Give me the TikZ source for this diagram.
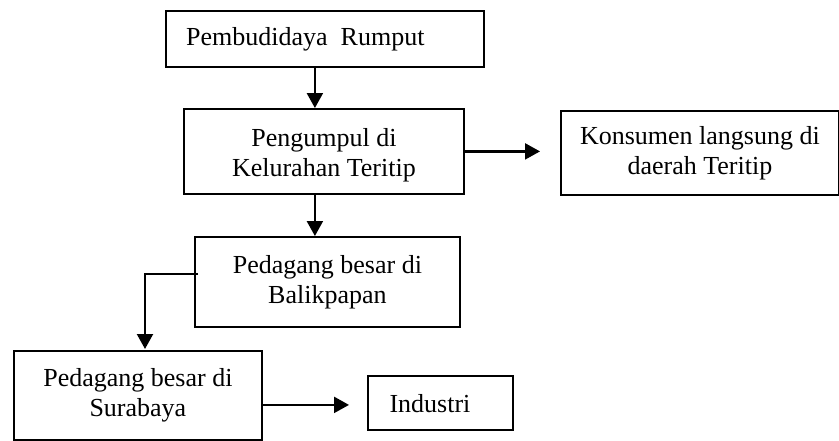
\documentclass[tikz,border=0pt]{standalone}
\usepackage{fontspec}
\setmainfont{Liberation Serif}
\usetikzlibrary{arrows.meta,calc}
\begin{document}
\begin{tikzpicture}[x=1pt,y=-1pt,
  box/.style={draw, line width=1.8pt, anchor=north west, inner sep=0pt, align=center, font=\fontsize{26}{30}\selectfont},
  lbl/.style={inner sep=0pt, align=center, font=\fontsize{26}{30}\selectfont},
  arr/.style={line width=2.2pt, -{Triangle[length=15pt,width=16pt]}}]
\useasboundingbox (0,0) rectangle (839,440);
\node[box, minimum width=318pt, minimum height=56pt] (b1) at (165,10) {};
\node[lbl, anchor=base west] (t1) at (186,45) {Pembudidaya\ \ Rumput};
\node[box, minimum width=280pt, minimum height=85pt] (b2) at (183,108) {};
\node[lbl] (t2) at ($(b2.center)+(0,4)$) {Pengumpul di\\Kelurahan Teritip};
\node[box, minimum width=278pt, minimum height=84pt] (b3) at (560,110) {Konsumen langsung di\\daerah Teritip};
\node[box, minimum width=265pt, minimum height=90pt] (b4) at (194,236) {Pedagang besar di\\Balikpapan};
\node[box, minimum width=248pt, minimum height=89pt] (b5) at (13,350) {Pedagang besar di\\Surabaya};
\node[box, minimum width=145pt, minimum height=54pt] (b6) at (367,375) {};
\node[lbl, anchor=base] (t6) at (430,412) {Industri};
% connectors
\draw[arr] ([xshift=-10pt]b1.south) -- ([xshift=-10pt]b1.south |- b2.north);
\coordinate (p23) at ($(b3.west)+(-20,0)$);
\draw[arr] (b2.east) -- (b2.east -| p23);
\draw[arr] ([xshift=-9pt]b2.south) -- ([xshift=-9pt]b2.south |- b4.north);
\coordinate (k45) at ($(b4.west)+(4,-8)$);
\coordinate (e45) at ($(b5.north west)+(132,-1)$);
\draw[arr] (k45) -| (e45);
\coordinate (s56) at ($(b5.east)+(0,9.5)$);
\coordinate (p56) at ($(b6.west)+(-18,0)$);
\draw[arr] (s56) -- (s56 -| p56);
\end{tikzpicture}
\end{document}
